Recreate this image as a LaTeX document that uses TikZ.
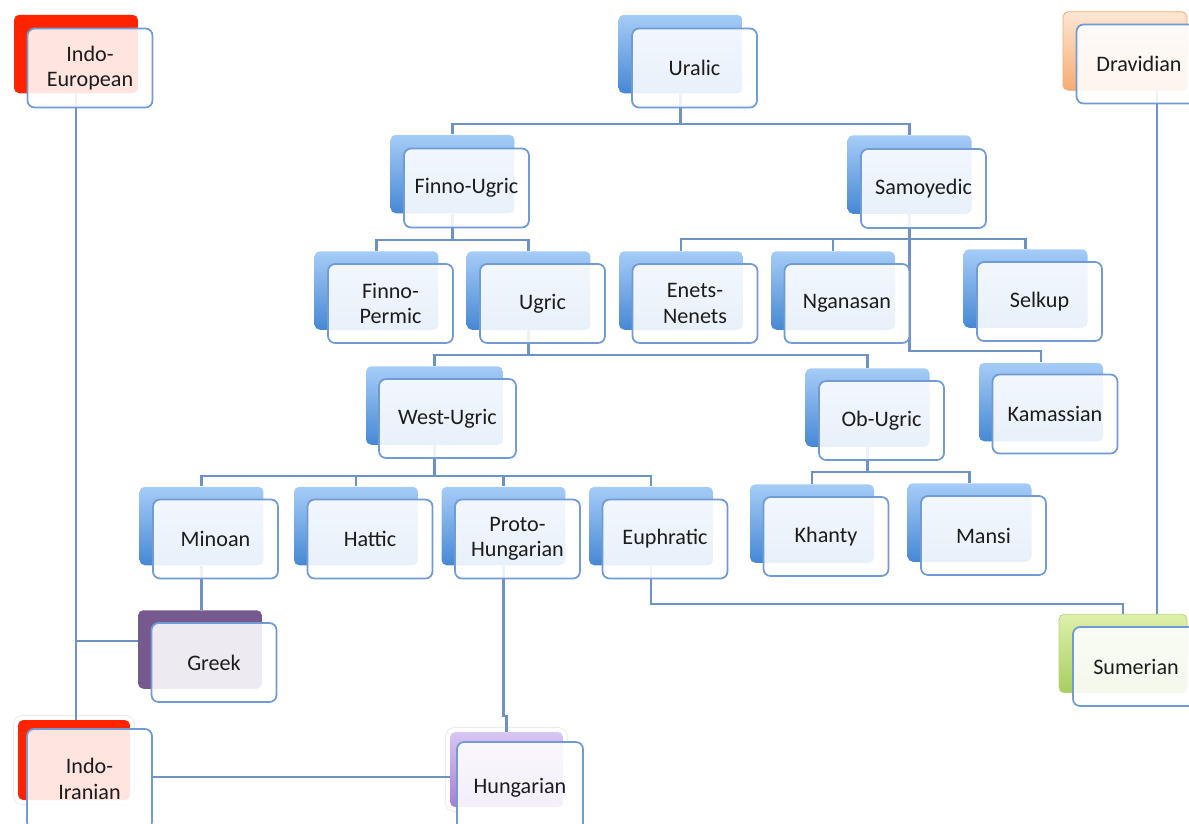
\documentclass[tikz,border=0pt]{standalone}
\usepackage{fontspec}
\setmainfont{Carlito}
\usetikzlibrary{positioning,calc}
\definecolor{linkblue}{RGB}{108,146,198}
\definecolor{edgeblue}{RGB}{112,155,212}
\definecolor{bluetop}{RGB}{166,204,247}
\definecolor{bluebot}{RGB}{70,136,212}
\definecolor{iered}{RGB}{255,36,0}
\definecolor{orangetop}{RGB}{253,230,212}
\definecolor{orangebot}{RGB}{247,172,112}
\definecolor{orangeedge}{RGB}{245,172,112}
\definecolor{greekpurple}{RGB}{118,90,143}
\definecolor{lilactop}{RGB}{216,198,243}
\definecolor{lilacbot}{RGB}{164,128,212}
\definecolor{greentop}{RGB}{222,240,170}
\definecolor{greenbot}{RGB}{166,206,96}
\definecolor{labelgray}{RGB}{28,28,28}

\tikzset{
  back/.style={rounded corners=3pt, minimum width=2.48cm, minimum height=1.57cm, inner sep=0pt},
  blueback/.style={back, top color=bluetop, bottom color=bluebot},
  redback/.style={back, fill=iered},
  orangeback/.style={back, draw=orangeedge, line width=0.5pt, top color=orangetop, bottom color=orangebot},
  purpleback/.style={back, fill=greekpurple},
  lilacback/.style={back, top color=lilactop, bottom color=lilacbot},
  greenback/.style={back, draw=greenbot!80, line width=0.5pt, top color=greentop, bottom color=greenbot},
  rim/.style={preaction={draw=black!10, line width=0.4pt, double=white, double distance=5pt}},
  front/.style={draw=edgeblue, line width=1pt, rounded corners=4pt, fill=white, fill opacity=0.88,
    text opacity=1, minimum width=2.5cm, minimum height=1.58cm, inner sep=2pt, align=center,
    text=labelgray, font=\fontsize{12.6}{14.4}\selectfont},
  link/.style={draw=linkblue, line width=1.2pt},
}

\begin{document}
\begin{tikzpicture}[x=0.02cm, y=-0.02cm]
  \useasboundingbox (0,0) rectangle (1189,823);

  % back cards
  \node[redback] (ieb) at (76,54) {};
  \node[blueback] (uralicb) at (680.5,54) {};
  \node[orangeback] (dravb) at (1125,51) {};
  \node[blueback] (fugb) at (452.5,174) {};
  \node[blueback] (samb) at (909.5,174.5) {};
  \node[blueback] (fpb) at (376.5,290.5) {};
  \node[blueback] (ugb) at (528.5,290.5) {};
  \node[blueback] (enb) at (681,290.5) {};
  \node[blueback] (ngb) at (833,290.5) {};
  \node[blueback] (selb) at (1025.5,288.5) {};
  \node[blueback] (kamb) at (1041,402) {};
  \node[blueback, minimum width=2.74cm] (wub) at (434.5,405.5) {};
  \node[blueback] (obb) at (867.5,407.5) {};
  \node[blueback] (minb) at (201.5,526) {};
  \node[blueback] (hatb) at (356,526) {};
  \node[blueback] (phb) at (503.5,526) {};
  \node[blueback] (euphb) at (651,526) {};
  \node[blueback] (khb) at (812,523.5) {};
  \node[blueback] (mab) at (969.5,522.5) {};
  \node[purpleback] (greekb) at (200,649.5) {};
  \node[greenback, minimum width=2.56cm] (sumb) at (1123,653.5) {};
  \node[redback, rim, minimum width=2.24cm, minimum height=1.6cm] (iiranb) at (74,760) {};
  \node[lilacback, rim, minimum width=2.26cm, minimum height=1.5cm] (hungb) at (506.5,769.5) {};

  % connectors
  \foreach \kid in {fugb,samb} \draw[link] (uralicb.south) -- ++(0,30) -| (\kid.north);
  \foreach \kid in {fpb,ugb} \draw[link] (fugb.south) -- ++(0,26) -| (\kid.north);
  \foreach \kid in {enb,ngb,selb} \draw[link] (samb.south) -- ++(0,25) -| (\kid.north);
  \draw[link] (samb.south) -- ++(0,137) -| (kamb.north);
  \foreach \kid in {wub,obb} \draw[link] (ugb.south) -- ++(0,25) -| (\kid.north);
  \foreach \kid in {minb,hatb,phb,euphb} \draw[link] (wub.south) -- ++(0,31) -| (\kid.north);
  \foreach \kid in {khb,mab} \draw[link] (obb.south) -- ++(0,25) -| (\kid.north);
  \draw[link] (minb.south) -- (minb.south |- greekb.north);
  \draw[link] (ieb.south) -- (ieb.south |- iiranb.north);
  \coordinate (gkin) at ([yshift=0.17cm]greekb.west);
  \draw[link] (ieb.south |- gkin) -- (gkin);
  \draw[link] (phb.south) -- ++(0,150) -| (hungb.north);
  \draw[link] (euphb.south) -- ++(0,38) -| (sumb.north);
  \coordinate (dvout) at ([xshift=0.64cm]dravb.south);
  \draw[link] (dvout) -- (dvout |- sumb.north);
  \coordinate (iiout) at ([yshift=-0.34cm]iiranb.east -| 152,0);
  \draw[link] (iiout) -- (iiout -| hungb.west);

  % front cards
  \node[front] (ie) at ([shift={(14,14)}]ieb) {Indo-\\European};
  \node[front] (uralic) at ([shift={(14,14)}]uralicb) {Uralic};
  \node[front] (drav) at ([shift={(14,13)}]dravb) {Dravidian};
  \node[front] (fug) at ([shift={(14,14)}]fugb) {Finno-Ugric};
  \node[front] (sam) at ([shift={(14,14)}]samb) {Samoyedic};
  \node[front] (fp) at ([shift={(14,13)}]fpb) {Finno-\\Permic};
  \node[front] (ug) at ([shift={(14,13)}]ugb) {Ugric};
  \node[front] (en) at ([shift={(14,13)}]enb) {Enets-\\Nenets};
  \node[front] (ng) at ([shift={(14,13)}]ngb) {Nganasan};
  \node[front] (sel) at ([shift={(14,13)}]selb) {Selkup};
  \node[front] (kam) at ([shift={(14,12)}]kamb) {Kamassian};
  \node[front, minimum width=2.74cm] (wu) at ([shift={(13,13)}]wub) {West-Ugric};
  \node[front] (ob) at ([shift={(14,13)}]obb) {Ob-Ugric};
  \node[front] (min) at ([shift={(14,13)}]minb) {Minoan};
  \node[front] (hat) at ([shift={(14,13)}]hatb) {Hattic};
  \node[front] (ph) at ([shift={(14,13)}]phb) {Proto-\\Hungarian};
  \node[front] (euph) at ([shift={(14,13)}]euphb) {Euphratic};
  \node[front] (kh) at ([shift={(14,13)}]khb) {Khanty};
  \node[front] (ma) at ([shift={(14,13)}]mab) {Mansi};
  \node[front] (greek) at ([shift={(14,13)}]greekb) {Greek};
  \node[front, minimum width=2.52cm] (sum) at ([shift={(13,13)}]sumb) {Sumerian};
  \node[front, minimum height=2cm] (iiran) at ([shift={(15.5,19)}]iiranb) {Indo-\\Iranian};
  \node[front, minimum width=2.52cm, minimum height=1.84cm] (hung) at ([shift={(13.5,18.5)}]hungb) {Hungarian};
\end{tikzpicture}
\end{document}
